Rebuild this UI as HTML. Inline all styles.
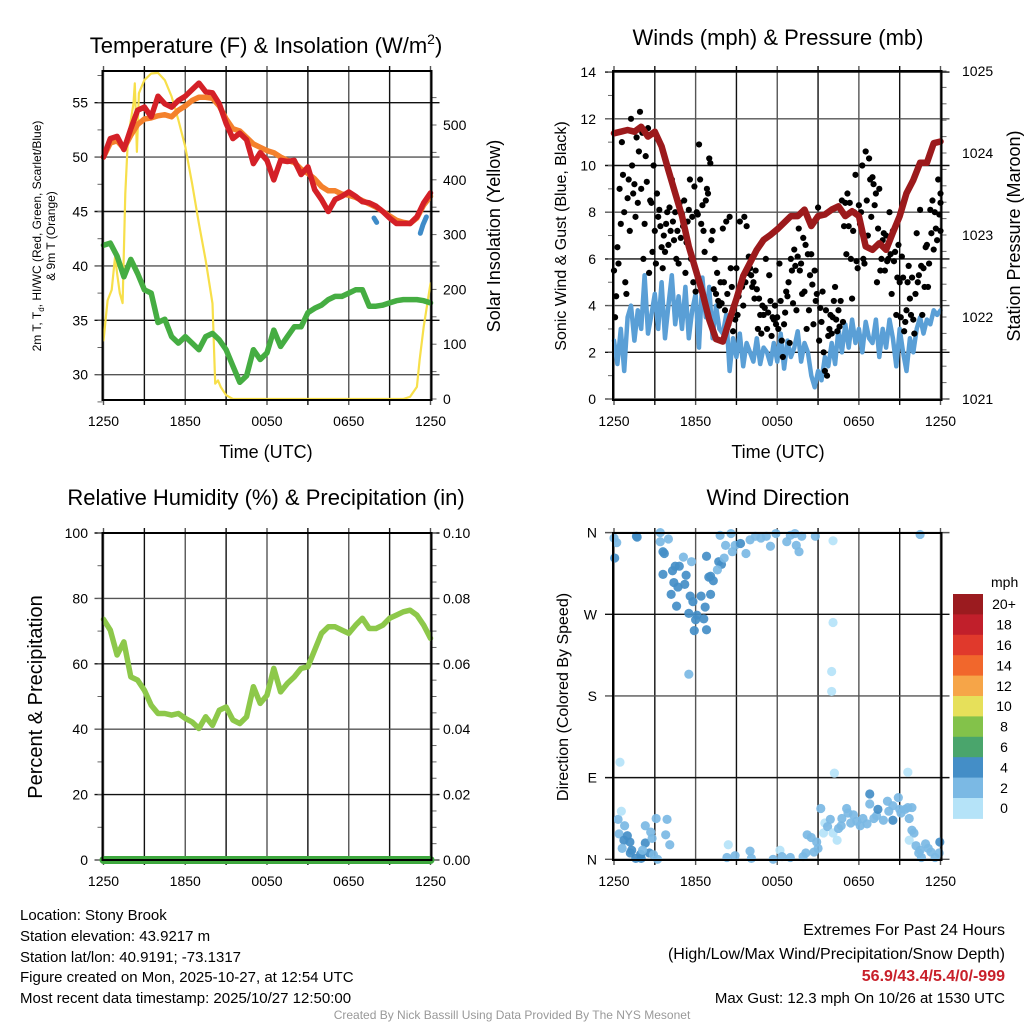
<!DOCTYPE html>
<html><head><meta charset="utf-8">
<style>
html,body{margin:0;padding:0;background:#fff;}
svg{display:block;font-family:"Liberation Sans",Arial,sans-serif;}
</style></head>
<body>
<svg id="fig" width="1024" height="1024" viewBox="0 0 1024 1024" xmlns="http://www.w3.org/2000/svg">
<rect width="1024" height="1024" fill="#fff"/>
<text x="266" y="53" font-size="22" text-anchor="middle">Temperature (F) &amp; Insolation (W/m<tspan font-size="14" dy="-9">2</tspan><tspan dy="9">)</tspan></text>
<text x="778" y="45" font-size="22" text-anchor="middle">Winds (mph) &amp; Pressure (mb)</text>
<text x="266" y="505" font-size="22" text-anchor="middle">Relative Humidity (%) &amp; Precipitation (in)</text>
<text x="778" y="505" font-size="22" text-anchor="middle">Wind Direction</text>
<text x="266" y="458" font-size="18" text-anchor="middle">Time (UTC)</text>
<text x="778" y="458" font-size="18" text-anchor="middle">Time (UTC)</text>
<g font-size="12" text-anchor="middle">
<text transform="translate(41,236) rotate(-90)">2m T, T<tspan font-size="8" dy="3">d</tspan><tspan dy="-3">, HI/WC (Red, Green, Scarlet/Blue)</tspan></text>
<text transform="translate(55,236) rotate(-90)">&amp; 9m T (Orange)</text>
</g>
<text transform="translate(500,236) rotate(-90)" font-size="18" text-anchor="middle">Solar Insolation (Yellow)</text>
<text transform="translate(566,236) rotate(-90)" font-size="16" text-anchor="middle">Sonic Wind &amp; Gust (Blue, Black)</text>
<text transform="translate(1020,236) rotate(-90)" font-size="18" text-anchor="middle">Station Pressure (Maroon)</text>
<text transform="translate(42,697) rotate(-90)" font-size="20" text-anchor="middle">Percent &amp; Precipitation</text>
<text transform="translate(568,697) rotate(-90)" font-size="16" text-anchor="middle">Direction (Colored By Speed)</text>
<g id="layers"></g>
<g font-size="15">
<text x="20" y="920">Location: Stony Brook</text>
<text x="20" y="941">Station elevation: 43.9217 m</text>
<text x="20" y="962">Station lat/lon: 40.9191; -73.1317</text>
<text x="20" y="982">Figure created on Mon, 2025-10-27, at 12:54 UTC</text>
<text x="20" y="1003">Most recent data timestamp: 2025/10/27 12:50:00</text>
</g>
<g font-size="16" text-anchor="end">
<text x="1005" y="935">Extremes For Past 24 Hours</text>
<text x="1005" y="959">(High/Low/Max Wind/Precipitation/Snow Depth)</text>
<text x="1005" y="981" fill="#c8202a" font-weight="bold">56.9/43.4/5.4/0/-999</text>
<text x="1005" y="1003" font-size="15">Max Gust: 12.3 mph On 10/26 at 1530 UTC</text>
</g>
<text x="512" y="1019" font-size="12" fill="#999" text-anchor="middle">Created By Nick Bassill Using Data Provided By The NYS Mesonet</text>
</svg>
<script>
const xTickLabels = ["1250","1850","0050","0650","1250"];
const tempTicks = [30,35,40,45,50,55];
const solarTicks = [0,100,200,300,400,500];
const windTicks = [0,2,4,6,8,10,12,14];
const presTicks = [1021,1022,1023,1024,1025];
const rhTicks = [0,20,40,60,80,100];
const precipTicks = ["0.00","0.02","0.04","0.06","0.08","0.10"];
const dirTickLabels = ["N","E","S","W","N"];
const speedLabels = ["0","2","4","6","8","10","12","14","16","18","20+"];
const speedColors = ["#b5e3f8","#7bb9e4","#448ec7","#4aa56c","#83c24a","#e6e05a","#f6a548","#f1672c","#e0392c","#c11f2b","#9b1b1f"];

const tempT = [50.0,51.7,51.9,50.7,52.6,54.3,54.6,53.7,55.6,54.9,54.6,55.2,55.6,56.2,56.8,56.0,55.9,54.9,53.1,51.7,52.2,51.6,49.4,50.4,49.7,47.9,49.7,49.6,49.7,48.4,49.1,47.0,46.1,45.0,46.1,46.4,46.8,46.4,45.9,45.8,45.5,45.0,44.4,43.9,43.9,43.9,44.5,45.8,46.7];
const temp9m = [50.0,51.3,51.5,50.8,52.0,53.0,53.5,53.6,53.8,53.9,53.7,54.3,54.7,55.2,55.5,55.5,55.4,54.7,53.5,52.6,52.4,51.8,51.2,50.9,50.6,50.4,50.0,49.7,49.5,48.9,48.5,48.0,47.3,46.9,46.9,46.6,46.5,46.3,46.0,45.7,45.4,45.0,44.6,44.2,44.0,43.9,44.4,45.6,46.4];
const dewT = [41.9,42.1,40.9,39.0,40.6,39.3,37.8,37.5,34.8,35.1,33.5,32.9,33.5,32.9,32.3,33.5,33.8,33.2,32.3,30.8,29.3,29.9,32.3,31.4,32.0,34.1,32.6,33.5,34.4,34.4,35.7,36.1,36.4,36.9,37.2,37.2,37.5,37.8,37.8,36.3,36.3,36.4,36.6,36.8,36.9,36.9,36.9,36.8,36.6];
const wcHours1 = [19.85,20.05];
const wcVals1 = [44.4,44.0];
const wcHours2 = [23.25,23.45,23.7];
const wcVals2 = [43.0,43.8,44.5];
const solarHours = [0,0.3,0.6,0.85,1.0,1.2,1.4,1.6,1.8,2.0,2.2,2.3,2.4,2.45,2.6,3.0,3.5,4.0,4.5,5.0,5.5,6.0,6.5,7.0,7.5,8.0,8.2,8.4,8.6,9.0,9.5,22.0,22.5,23.0,23.2,23.5,24.0];
const solarVals = [107,180,199,260,229,193,175,375,478,508,539,576,497,451,558,582,594,595,582,552,509,460,393,320,253,174,28,34,22,7,0,0,4,22,71,132,211];

const sonicWind = [2.5,1.5,3.0,1.2, 3.5,4.0,2.5,3.8, 3.0,5.3,2.8,3.6, 4.5,3.0,5.0,2.6, 4.0,5.3,3.2,4.4, 3.0,4.8,2.6,3.8, 4.5,2.2,5.2,3.5, 4.8,2.6,4.0,3.0, 2.8,3.6,1.2,2.6, 1.8,2.8,1.4,2.4, 2.0,1.6,2.6,1.5, 2.2,2.0,1.5,2.4, 1.6,2.8,1.3,2.5, 1.8,2.2,2.9,1.6, 2.4,2.0,1.0,0.5, 1.2,0.8,1.8,1.4, 2.4,1.5,3.0,2.0, 3.2,2.2,3.4,2.4, 3.0,2.0,3.3,2.6, 2.4,3.4,1.8,3.0, 2.2,3.4,2.6,1.4, 3.0,2.0,1.2,2.6, 2.0,3.0,3.5,2.8, 3.4,3.2,3.8,3.6, 3.8];
const gustA = [5.5,6.5,7.5,8.0,8.6,12.0,9.2,8.4,9.0,7.5,11.6,8.4,7.2,7.8,6.5,6.3,6.6,9.4,8.0,5.8,7.9,5.4,8.1,7.8,4.6,10.9,8.3,8.5,10.3,7.2,4.5,4.0,7.3,7.6,7.8,2.9,5.6,7.6,4.0,7.4,5.6,5.0,4.7,3.6,3.6,3.0,4.2,3.4,3.5,4.2,3.2,4.4,6.0,6.4,6.1,5.8,4.6,6.2,6.2,5.5,8.2,3.3,1.2,2.7,2.8,4.8,3.8,8.5,8.4,7.4,4.3,9.6,8.3,10.0,10.6,10.3,9.5,8.8,9.0,6.8,7.0,8.0,7.2,3.6,5.0,5.2,3.8,4.3,3.4,7.1,8.1,5.6,6.6,8.1,6.4,6.8,8.4];
const gustB = [3.5,5.8,11.0,5.0,9.4,10.0,7.8,10.6,11.4,10.4,5.4,6.3,5.8,8.1,5.6,7.5,8.2,7.6,6.0,8.4,7.4,6.7,9.4,5.0,8.0,9.4,7.2,9.0,10.1,4.7,5.4,5.0,5.0,4.5,5.6,4.0,3.6,4.9,7.8,5.4,5.3,4.3,3.0,2.8,3.9,3.7,2.7,4.0,3.0,2.5,3.7,5.0,5.5,5.7,7.3,4.5,6.6,3.8,4.9,4.2,2.5,4.6,3.8,3.0,3.5,3.4,3.1,3.3,6.2,8.4,7.2,5.9,7.5,6.0,8.5,9.4,9.2,5.0,5.5,7.1,5.9,6.2,5.9,5.2,3.5,2.9,5.0,3.6,2.8,5.0,5.7,4.8,4.8,7.1,8.0,9.4,7.2];
const gustC = [4.4,9.0,9.6,4.5,7.2,8.8,11.2,12.3,6.0,9.3,8.5,10.0,8.8,7.4,7.0,8.0,7.2,6.8,7.2,6.9,8.5,7.6,6.0,9.1,7.9,7.5,6.3,8.8,6.8,6.0,4.2,4.1,3.8,3.2,4.8,3.4,4.4,4.8,5.0,6.1,4.8,5.5,4.3,4.0,6.0,5.3,3.5,3.2,5.8,1.8,4.6,2.4,4.1,3.8,5.5,6.9,3.0,5.3,3.2,4.5,3.9,2.0,1.0,3.6,4.2,2.9,4.2,7.4,8.8,6.0,8.0,5.6,8.0,5.8,7.0,7.8,8.3,7.3,6.0,5.5,6.0,4.5,6.3,6.6,6.1,3.3,5.7,5.2,4.5,5.3,3.6,6.5,5.8,8.5,7.3,7.9,8.8];
const pressure = [1024.24,1024.26,1024.28,1024.26,1024.32,1024.2,1024.26,1024.08,1023.79,1023.51,1023.23,1022.86,1022.58,1022.3,1021.97,1021.73,1021.7,1021.97,1022.22,1022.5,1022.66,1022.82,1022.94,1023.0,1023.07,1023.15,1023.23,1023.23,1023.31,1023.11,1023.23,1023.25,1023.31,1023.35,1023.23,1023.29,1023.23,1022.86,1022.82,1022.9,1022.82,1023.03,1023.23,1023.51,1023.67,1023.88,1023.88,1024.12,1024.14];

const rh = [73.6,70.3,62.7,66.7,56.0,55.0,51.9,47.3,44.8,44.8,44.3,44.8,43.3,42.2,40.2,43.8,41.2,45.8,46.8,42.8,41.7,43.8,53.0,47.9,50.4,58.6,51.4,54.0,56.0,58.6,59.1,64.2,69.3,71.3,71.3,70.3,69.3,71.8,73.9,70.8,70.8,71.8,73.9,74.9,75.9,76.4,74.9,71.8,67.8];
const precip = [0,0];
const precipHours = [0,24];

const dirHours = [0,0.2,0.05,1.7,1.65,3.4,3.4,4.0,3.6,3.7,5.1,5.7,4.5,4.8,4.3,3.6,5.3,4.4,4.7,5.2,4.2,5.6,6.4,5.8,7.1,4.6,6.7,5.5,6.1,6.6,6.0,6.8,5.9,5.5,6.8,7.1,7.3,6.97,7.7,7.9,8.1,7.6,8.2,7.8,8.6,8.7,8.9,9.3,9.7,10.0,10.4,10.8,11.2,11.5,11.9,12.7,12.96,13.3,13.4,13.6,13.8,14.8,16.1,22.5,16.1,16.0,16.0,0.44,16.2,21.6,
0.3,0.54,0.78,0.37,0.98,0.73,1.17,0.6,1.3,1.6,1.96,2.3,2.6,2.8,2.7,2.3,2.9,3.1,3.2,3.9,3.8,4.1,2.0,1.2,2.1,
8.4,8.3,8.9,10.0,10.1,11.7,12.2,12.35,12.96,13.9,14.1,14.2,14.5,14.9,14.7,15.0,15.2,15.4,15.5,15.7,15.9,16.1,16.4,16.5,16.75,16.7,17.1,17.2,17.4,17.6,17.85,18.1,18.3,18.6,18.8,18.8,19.1,19.3,19.4,19.8,20.1,20.2,20.5,20.5,20.9,21.0,21.1,21.4,21.6,21.9,21.7,21.9,22.05,21.7,22.2,22.5,22.9,23.1,23.3,23.6,23.9,23.95,22.6,22.4];
const dirDeg = [354,349,332,355,356,360,350,353,339,337,333,328,323,323,318,314,313,305,300,303,292,290,290,284,292,279,278,271,269,265,264,253,252,204,334,312,307,311,328,325,332,319,346,357,359,339,346,348,337,352,356,354,356,345,359,350,357,359,346,339,356,356,351,358,261,207,185,107,95,96,
44,53,37,28,26,21,19,12,10,1,5.5,18,7,23,30,37,5,45,0,44,27,16,1,7,10,
16,2,4,9,1,0,10,3,2,3,7,27,24,19,8,12,56,29,40,36,44,29,21,34,45,37,56,51,40,49,42,37,45,39,72,61,45,48,55,43,64,53,43,59,68,55,51,55,57,57,45,32,29,21,15,10,17,12,8,2,7,19,2,7];
const dirSpeed = [3,3,4,5,5,3,3,3,5,5,3,3,5,5,5,5,5,5,5,5,5,5,5,5,5,5,5,5,5,5,5,5,5,3,5,5,5,5,5,5,3,3,3,3,3,3,3,5,3,3,3,3,3,3,3,3,3,3,3,3,3,3,1,3,1,1,1,1,1,1,
3,1,3,3,5,5,5,3,5,5,5,5,5,3,3,3,3,3,3,3,3,3,5,5,3,
1,3,3,3,3,3,1,3,3,3,3,3,3,3,3,3,3,1,1,3,3,1,1,3,3,3,3,3,3,3,3,3,3,3,5,3,3,3,5,3,3,3,5,3,3,3,3,3,3,3,3,3,3,1,3,3,3,3,3,3,3,5,3,3];

const NS = "http://www.w3.org/2000/svg";
const layers = document.getElementById('layers');
function mk(tag, attrs, parent){
  const e = document.createElementNS(NS, tag);
  for (const k in attrs) e.setAttribute(k, attrs[k]);
  (parent||layers).appendChild(e);
  return e;
}
const P1 = {x0:103.5, w:327, top:71, bot:400};
const P2 = {x0:614, w:326.5, top:71, bot:400};
const P3 = {x0:103.5, w:327, top:533, bot:860};
const P4 = {x0:614, w:326.5, top:533, bot:860};
const xs = (P,h) => P.x0 + h/24*P.w;
const yTemp = v => 102.7 + (55-v)*10.88;
const ySolar = v => 399 - v*0.548;
const yWind = v => 399 - v*23.35;
const yPres = v => 399 - (v-1021)*82;
const yRH = v => 860 - v*3.27;
const yPrecip = v => 860 - v*3270;
const yDir = v => 859.3 - v*0.9074;

function frame(P, name){
  const g = mk('g', {});
  
  
  for (let k=0;k<=8;k++){
    const x = P.x0 + k*P.w/8;
    const l = mk('line',{x1:x,x2:x,y1:P.top-5,y2:P.bot+5,stroke:(k%2? '#111':'#555'),'stroke-width':1.4},g);
    
    
  }
  return g;
}
function hgrid(P, ys, name){
  const g = mk('g', {});
  
  
  ys.forEach((y,i)=>{ mk('line',{x1:P.x0-9,x2:P.x0+P.w+9,y1:y,y2:y,stroke:(i%2?'#111':'#555'),'stroke-width':1.4},g); });
}
function box(P, name){
  const r = mk('rect',{x:P.x0-1,y:P.top,width:P.w+2,height:P.bot-P.top,fill:'none',stroke:'#000','stroke-width':2});
  
  
}
function xlabels(P, y){
  const g = mk('g',{'font-size':14,'text-anchor':'middle'});
  
  
  xTickLabels.forEach((t,i)=>{ const e = mk('text',{x:P.x0+i*P.w/4,y:y},g); e.textContent=t; });
}
function ylabels(vals, yf, x, anchor, name, fmt){
  const g = mk('g',{'font-size':14,'text-anchor':anchor});
  
  
  vals.forEach(v=>{ const e = mk('text',{x:x,y:yf(v)+5},g); e.textContent = fmt?fmt(v):v; });
}
function minorTicks(x, dir, y0, y1, step){
  for (let y=y0; y<=y1+0.1; y+=step) mk('line',{x1:x,x2:x+dir*5,y1:y,y2:y,stroke:'#666','stroke-width':1});
}
function pathFrom(hours, vals, xf, yf){
  return hours.map((h,i)=>(i?'L':'M')+xf(h).toFixed(1)+','+yf(vals[i]).toFixed(1)).join(' ');
}
function line(hours, vals, xf, yf, color, w, name){
  const p = mk('path',{d:pathFrom(hours,vals,xf,yf),fill:'none',stroke:color,'stroke-width':w,'stroke-linejoin':'round','stroke-linecap':'round'});
  
  
  return p;
}
const halfHours = tempT.map((_,i)=>i*0.5);
const quarterHours = sonicWind.map((_,i)=>i*0.25);

frame(P1,'temperature');
hgrid(P1, tempTicks.map(yTemp), 'temperature-hgrid');
minorTicks(P1.x0-1, -1, yTemp(57.5), yTemp(27.5), 27.2);
minorTicks(P1.x0+P1.w+1, 1, ySolar(550), ySolar(0), 27.4);
line(solarHours, solarVals, h=>xs(P1,h), ySolar, '#f7df4a', 2.2, 'solar-insolation-line');
line(halfHours, temp9m, h=>xs(P1,h), yTemp, '#f4812c', 5.5, 'temp-9m-line');
line(halfHours, tempT, h=>xs(P1,h), yTemp, '#d42027', 5.5, 'temp-2m-line');
line(halfHours, dewT, h=>xs(P1,h), yTemp, '#45ad42', 5.5, 'dewpoint-line');
line(wcHours1, wcVals1, h=>xs(P1,h), yTemp, '#3e8bc8', 5, 'windchill-line-1');
line(wcHours2, wcVals2, h=>xs(P1,h), yTemp, '#3e8bc8', 5, 'windchill-line-2');
box(P1,'temperature');
xlabels(P1, 426);
ylabels(tempTicks, yTemp, 88, 'end', 'temp-y-tick-labels');
ylabels(solarTicks, ySolar, 443, 'start', 'solar-y-tick-labels');

frame(P2,'winds');
hgrid(P2, windTicks.map(yWind), 'winds-hgrid');
minorTicks(P2.x0-1, -1, yWind(14), yWind(0), 23.35);
minorTicks(P2.x0+P2.w+1, 1, yPres(1025), yPres(1021), 16.4);
line(quarterHours, sonicWind, h=>xs(P2,h), yWind, '#5a9fd6', 4.5, 'sonic-wind-line');
const gg = mk('g',{fill:'#000'});


[[gustA,0],[gustB,0.08],[gustC,0.16]].forEach(([arr,off])=>{
  arr.forEach((v,i)=>{
    const c = mk('circle',{cx:xs(P2,Math.min(24,quarterHours[i]+off)),cy:yWind(v),r:3.1},gg);
    
    
  });
});
line(halfHours, pressure, h=>xs(P2,h), yPres, '#9c1a1c', 6.5, 'pressure-line');
box(P2,'winds');
xlabels(P2, 426);
ylabels(windTicks, yWind, 596, 'end', 'wind-y-tick-labels');
ylabels(presTicks, yPres, 962, 'start', 'pressure-y-tick-labels');

frame(P3,'humidity');
hgrid(P3, rhTicks.map(yRH), 'humidity-hgrid');
minorTicks(P3.x0-1, -1, yRH(100), yRH(0), 32.7);
minorTicks(P3.x0+P3.w+1, 1, yRH(100), yRH(0), 16.35);
line(halfHours, rh, h=>xs(P3,h), yRH, '#8dc84a', 5.5, 'relative-humidity-line');
line(precipHours, precip, h=>xs(P3,h), yPrecip, '#3ea83e', 8, 'precipitation-line');
box(P3,'humidity');
xlabels(P3, 886);
ylabels(rhTicks, yRH, 88, 'end', 'rh-y-tick-labels');
ylabels(precipTicks.map(Number), yPrecip, 443, 'start', 'precip-y-tick-labels', v=>v.toFixed(2));

frame(P4,'direction');
hgrid(P4, [0,90,180,270,360].map(yDir), 'direction-hgrid');
const dg = mk('g',{});


dirHours.forEach((h,i)=>{
  const c = mk('circle',{cx:xs(P4,h),cy:yDir(dirDeg[i]),r:4.6,fill:speedColors[Math.min(10,Math.floor(dirSpeed[i]/2))],opacity:0.92},dg);
  
  
});
box(P4,'direction');
xlabels(P4, 886);
const dl = mk('g',{'font-size':14,'text-anchor':'end'});


dirTickLabels.forEach((t,i)=>{ const e = mk('text',{x:597,y:yDir(i*90)+5},dl); e.textContent=t; });

const cb = mk('g',{});


const cbTop = 594, cbH = 20.4;
const ct = mk('text',{x:991,y:587,'font-size':14},cb); ct.textContent='mph';
speedLabels.forEach((lab,i)=>{
  const k = speedLabels.length-1-i;
  const y = cbTop + i*cbH;
  const r = mk('rect',{x:953,y:y,width:30,height:cbH+0.5,fill:speedColors[k]},cb);
  
  
  const t = mk('text',{x:1004,y:y+cbH/2+5,'font-size':14,'text-anchor':'middle'},cb); t.textContent = speedLabels[k];
});
</script>
</body></html>
